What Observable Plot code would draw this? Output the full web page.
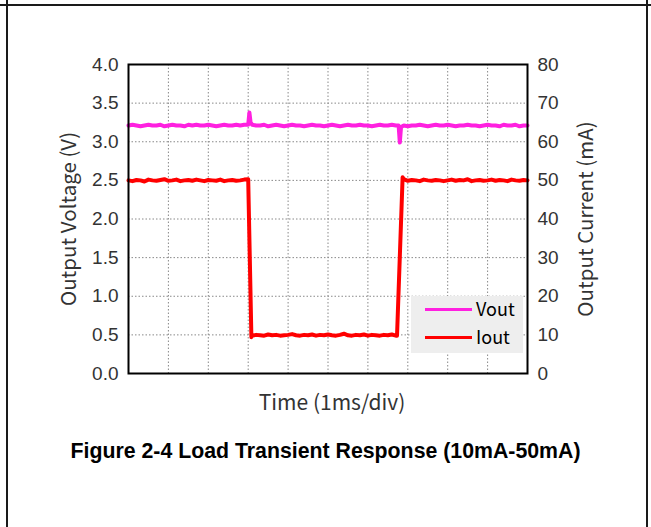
<!DOCTYPE html>
<html>
<head>
<meta charset="utf-8">
<script src="https://cdn.jsdelivr.net/npm/d3@7"></script>
<script src="https://cdn.jsdelivr.net/npm/@observablehq/plot@0.6"></script>
<style>
  html, body { margin: 0; padding: 0; background: #fff; }
  #page { position: relative; width: 651px; height: 527px; overflow: hidden; background: #fff; }
  .bord { position: absolute; background: #1a1a1a; }
  #chart { position: absolute; left: 0; top: 0; }
  #title { position: absolute; left: 0; width: 651px; top: 439px; text-align: center;
           font-family: "Liberation Sans", Arial, sans-serif; font-weight: bold; font-size: 21.3px; color: #000; }
  #legend { position: absolute; left: 411px; top: 296px; width: 112px; height: 57px; background: #eeeeee; }
  .lg { position: absolute; left: 14px; width: 47px; height: 3px; }
  .lt { position: absolute; left: 65px; font-family: "Noto Sans CJK SC", sans-serif; font-size: 18px; color: #000; line-height: 20px; }
</style>
</head>
<body>
<div id="page">
  <div id="chart"></div>
  <div class="bord" style="left:0;top:4px;width:651px;height:2px"></div>
  <div class="bord" style="left:6px;top:0;width:2px;height:527px"></div>
  <div class="bord" style="left:646px;top:0;width:2px;height:527px"></div>
  <div id="legend">
    <div class="lg" style="top:12px;background:#ff20e0"></div>
    <div class="lt" style="top:2px">Vout</div>
    <div class="lg" style="top:40px;background:#ff0000"></div>
    <div class="lt" style="top:30px">Iout</div>
  </div>
  <div id="title">Figure 2-4 Load Transient Response (10mA-50mA)</div>
</div>
<script>
// ---- data (time in divisions, 1 div = 1 ms) ----
const voltTicks = [0, 0.5, 1, 1.5, 2, 2.5, 3, 3.5, 4];
const currentTicks = [0, 10, 20, 30, 40, 50, 60, 70, 80];
const timeDivs = [0, 1, 2, 3, 4, 5, 6, 7, 8, 9, 10];

const timeV = [
  0, 0.1, 0.2, 0.3, 0.4, 0.5, 0.6, 0.7, 0.8, 0.9,
  1.0, 1.1, 1.2, 1.3, 1.4, 1.5, 1.6, 1.7, 1.8, 1.9,
  2.0, 2.1, 2.2, 2.3, 2.4, 2.5, 2.6, 2.7, 2.8, 2.9,
  3.0, 3.03, 3.06, 3.1, 3.2, 3.3, 3.4, 3.5, 3.6, 3.7, 3.8, 3.9,
  4.0, 4.1, 4.2, 4.3, 4.4, 4.5, 4.6, 4.7, 4.8, 4.9,
  5.0, 5.1, 5.2, 5.3, 5.4, 5.5, 5.6, 5.7, 5.8, 5.9,
  6.0, 6.1, 6.2, 6.3, 6.4, 6.5, 6.6, 6.7, 6.77, 6.8, 6.83, 6.9,
  7.0, 7.1, 7.2, 7.3, 7.4, 7.5, 7.6, 7.7, 7.8, 7.9,
  8.0, 8.1, 8.2, 8.3, 8.4, 8.5, 8.6, 8.7, 8.8, 8.9,
  9.0, 9.1, 9.2, 9.3, 9.4, 9.5, 9.6, 9.7, 9.8, 9.9, 10.0
];
const vout = [
  3.21, 3.22, 3.21, 3.20, 3.21, 3.22, 3.21, 3.21, 3.22, 3.20,
  3.21, 3.22, 3.21, 3.21, 3.20, 3.22, 3.21, 3.22, 3.21, 3.21,
  3.22, 3.21, 3.20, 3.21, 3.22, 3.21, 3.21, 3.22, 3.21, 3.22,
  3.22, 3.38, 3.25, 3.22, 3.21, 3.21, 3.22, 3.20, 3.21, 3.22, 3.21, 3.20,
  3.21, 3.22, 3.21, 3.21, 3.20, 3.21, 3.22, 3.21, 3.21, 3.20,
  3.21, 3.22, 3.21, 3.20, 3.21, 3.22, 3.21, 3.21, 3.22, 3.21,
  3.21, 3.20, 3.21, 3.22, 3.21, 3.21, 3.22, 3.21, 3.21, 2.99, 3.19, 3.21,
  3.20, 3.21, 3.21, 3.22, 3.21, 3.20, 3.21, 3.22, 3.21, 3.21,
  3.22, 3.21, 3.20, 3.21, 3.21, 3.22, 3.21, 3.21, 3.20, 3.21,
  3.22, 3.21, 3.21, 3.20, 3.22, 3.21, 3.21, 3.22, 3.20, 3.21, 3.21
];

const timeI = [
  0, 0.1, 0.2, 0.3, 0.4, 0.5, 0.6, 0.7, 0.8, 0.9,
  1.0, 1.1, 1.2, 1.3, 1.4, 1.5, 1.6, 1.7, 1.8, 1.9,
  2.0, 2.1, 2.2, 2.3, 2.4, 2.5, 2.6, 2.7, 2.8, 2.9, 3.0,
  3.08, 3.1, 3.2, 3.3, 3.4, 3.5, 3.6, 3.7, 3.8, 3.9,
  4.0, 4.1, 4.2, 4.3, 4.4, 4.5, 4.6, 4.7, 4.8, 4.9,
  5.0, 5.1, 5.2, 5.3, 5.4, 5.5, 5.6, 5.7, 5.8, 5.9,
  6.0, 6.1, 6.2, 6.3, 6.4, 6.5, 6.6, 6.7, 6.73,
  6.87, 6.9, 7.0, 7.1, 7.2, 7.3, 7.4, 7.5, 7.6, 7.7, 7.8, 7.9,
  8.0, 8.1, 8.2, 8.3, 8.4, 8.5, 8.6, 8.7, 8.8, 8.9,
  9.0, 9.1, 9.2, 9.3, 9.4, 9.5, 9.6, 9.7, 9.8, 9.9, 10.0
];
const iout = [
  50.0, 49.8, 50.1, 50.0, 49.7, 50.2, 50.0, 49.9, 50.1, 50.3,
  49.9, 50.0, 50.2, 49.8, 50.0, 50.1, 49.9, 50.2, 50.0, 49.8,
  50.1, 50.0, 49.9, 50.2, 49.8, 50.0, 50.1, 49.9, 50.0, 50.2, 50.3,
  9.4, 9.8, 10.0, 9.9, 9.8, 10.1, 9.9, 10.0, 9.8, 9.9,
  10.0, 10.2, 9.9, 9.8, 10.0, 9.9, 10.1, 9.8, 10.0, 9.9,
  10.1, 9.9, 9.8, 10.0, 10.3, 9.9, 9.8, 10.0, 9.9, 10.1,
  9.8, 10.0, 9.9, 9.8, 10.0, 9.9, 10.1, 9.8, 9.8,
  50.8, 50.3, 49.9, 50.1, 50.0, 49.8, 50.2, 50.0, 49.9, 50.1, 50.0, 49.8,
  50.0, 50.2, 49.9, 50.1, 50.0, 50.3, 49.8, 50.0, 50.1, 49.9,
  50.0, 50.2, 49.9, 50.1, 50.0, 49.8, 50.2, 50.0, 49.9, 50.1, 50.0
];

const ratio = 80 / 4; // mA per V on the secondary axis
const vData = timeV.map((t, k) => ({t, v: vout[k]}));
const iData = timeI.map((t, k) => ({t, i: iout[k]}));

const tickFont = '"Liberation Sans", Arial, sans-serif';
const titleFont = '"Noto Sans CJK SC", "Noto Sans", sans-serif';

const chart = Plot.plot({
  width: 651,
  height: 430,
  marginLeft: 128,
  marginRight: 124,
  marginTop: 64,
  marginBottom: 57,
  style: {fontFamily: tickFont, color: "#333", background: "transparent"},
  x: {domain: [0, 10], axis: null},
  y: {domain: [0, 4], axis: null},
  marks: [
    Plot.gridX(timeDivs.slice(1, -1), {stroke: "#888", strokeOpacity: 1, strokeDasharray: "1.5,2"}),
    Plot.gridY(voltTicks.slice(1, -1), {stroke: "#888", strokeOpacity: 1, strokeDasharray: "1.5,2"}),
    Plot.text(voltTicks, {y: d => d, text: d => d.toFixed(1), frameAnchor: "left", dx: -10, textAnchor: "end", fontSize: 19, fontFamily: tickFont, fill: "#333"}),
    Plot.text(currentTicks, {y: d => d / ratio, text: d => String(d), frameAnchor: "right", dx: 10, textAnchor: "start", fontSize: 19, fontFamily: tickFont, fill: "#333"}),
    Plot.line(vData, {x: "t", y: "v", stroke: "#ff20e0", strokeWidth: 4, strokeLinejoin: "round"}),
    Plot.line(iData, {x: "t", y: d => d.i / ratio, stroke: "#ff0000", strokeWidth: 4, strokeLinejoin: "round"}),
    Plot.frame({stroke: "#000", strokeWidth: 2}),
    Plot.text(["Output Voltage (V)"], {frameAnchor: "left", dx: -59, rotate: -90, textAnchor: "middle", fontSize: 20.5, fontFamily: titleFont, fill: "#333"}),
    Plot.text(["Output Current (mA)"], {frameAnchor: "right", dx: 59, rotate: -90, textAnchor: "middle", fontSize: 20.5, fontFamily: titleFont, fill: "#333"}),
    Plot.text(["Time (1ms/div)"], {frameAnchor: "bottom", dy: 36, dx: 4, textAnchor: "middle", fontSize: 21, fontFamily: titleFont, fill: "#333"})
  ]
});
document.getElementById("chart").appendChild(chart);
</script>
</body>
</html>
